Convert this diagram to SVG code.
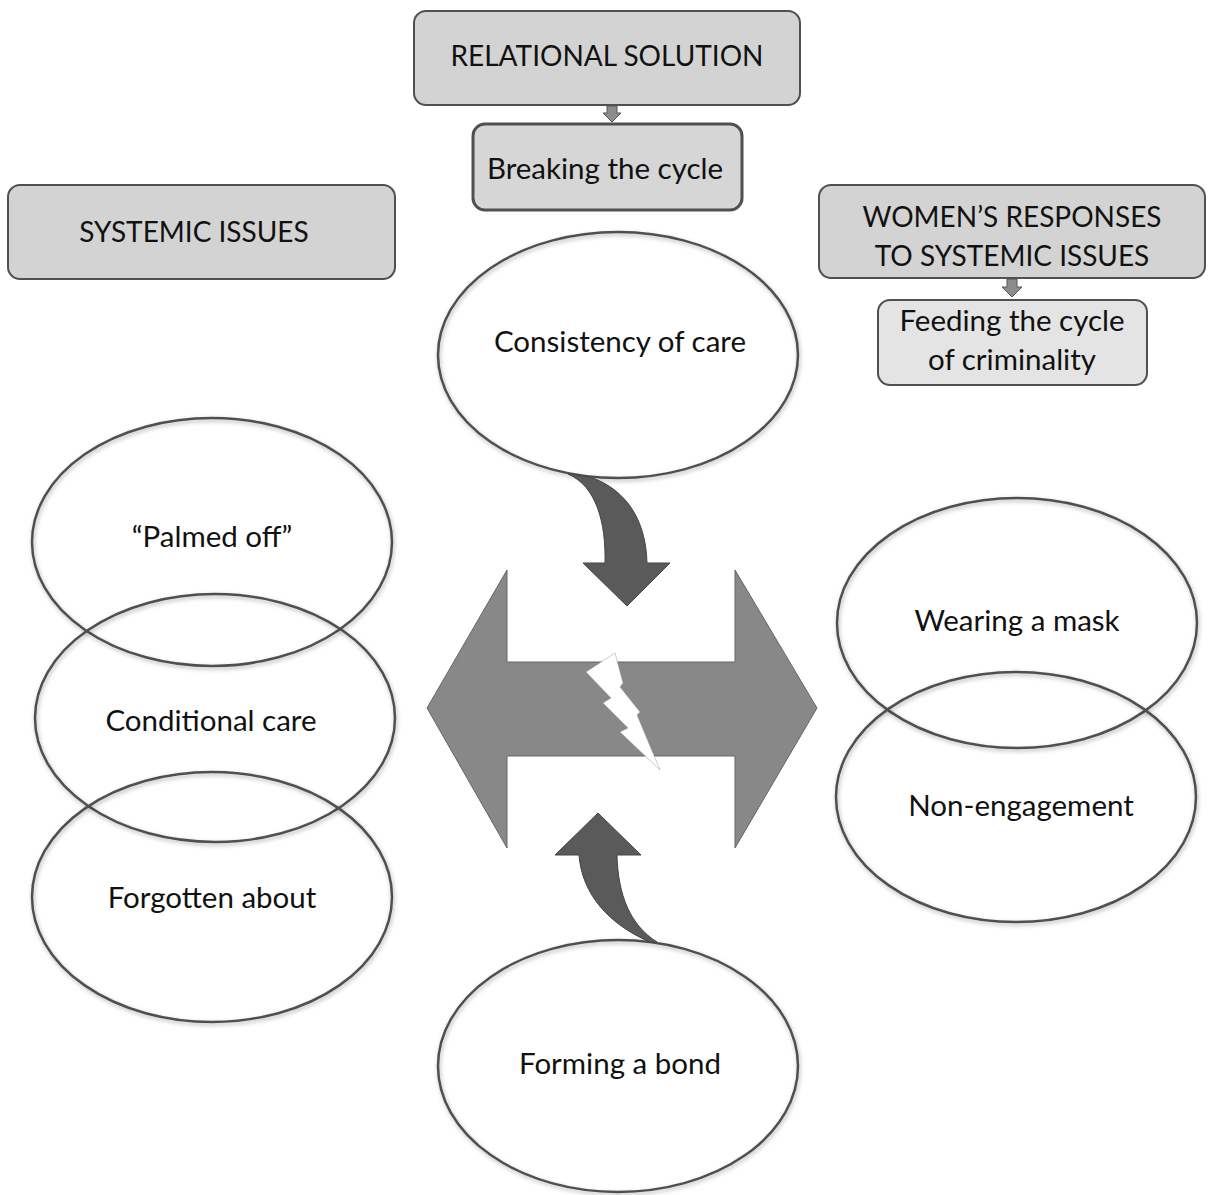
<svg xmlns="http://www.w3.org/2000/svg" width="1209" height="1195" viewBox="0 0 1209 1195">
<defs>
<filter id="sh" x="-10%" y="-10%" width="120%" height="125%">
<feDropShadow dx="1" dy="2" stdDeviation="2" flood-color="#000" flood-opacity="0.3"/>
</filter>
<style>
.box{fill:#d3d3d3;stroke:#505050;stroke-width:2}
.ell{fill:none;stroke:#505050;stroke-width:2.5;filter:url(#sh)}
.t{font-family:Lato,"Open Sans",sans-serif;font-size:29.5px;fill:#111;text-anchor:middle}
.c{font-size:28px}
.sm{fill:#8c8c8c;stroke:#555;stroke-width:1}
.dk{fill:#5a5a5a;stroke:#444;stroke-width:1}
</style>
</defs>
<rect width="1209" height="1195" fill="#fff"/>
<g id="relational-solution"><rect class="box" x="414" y="11" width="386" height="94" rx="12"/><text class="t c" x="607" y="66">RELATIONAL SOLUTION</text></g>
<g id="breaking-the-cycle"><rect class="box" x="473" y="124" width="269" height="86" rx="12" style="stroke-width:3;fill:#d6d6d6"/><text class="t" x="605" y="179">Breaking the cycle</text></g>
<g id="systemic-issues"><rect class="box" x="8" y="185" width="387" height="94" rx="12"/><text class="t c" x="194" y="242">SYSTEMIC ISSUES</text></g>
<g id="womens-responses"><rect class="box" x="819" y="185" width="386" height="93" rx="12"/><text class="t c" x="1012" y="227">WOMEN’S RESPONSES</text><text class="t c" x="1012" y="266">TO SYSTEMIC ISSUES</text></g>
<g id="feeding-the-cycle"><rect class="box" x="878" y="300" width="269" height="85" rx="12" style="fill:#e4e4e4"/><text class="t" x="1012" y="331">Feeding the cycle</text><text class="t" x="1012" y="370">of criminality</text></g>
<g id="consistency-of-care"><ellipse class="ell" cx="618" cy="355" rx="180" ry="123"/><text class="t" x="620" y="352">Consistency of care</text></g>
<g id="palmed-off"><ellipse class="ell" cx="212" cy="542" rx="180" ry="124"/><text class="t" x="212" y="547">“Palmed off”</text></g>
<g id="conditional-care"><ellipse class="ell" cx="215" cy="718" rx="180" ry="124"/><text class="t" x="211" y="731">Conditional care</text></g>
<g id="forgotten-about"><ellipse class="ell" cx="212" cy="897" rx="180" ry="125"/><text class="t" x="212" y="908">Forgotten about</text></g>
<g id="wearing-a-mask"><ellipse class="ell" cx="1017" cy="623" rx="180" ry="125"/><text class="t" x="1017" y="631">Wearing a mask</text></g>
<g id="non-engagement"><ellipse class="ell" cx="1016" cy="797" rx="180" ry="125"/><text class="t" x="1021" y="816">Non-engagement</text></g>
<g id="forming-a-bond"><ellipse class="ell" cx="618" cy="1066" rx="180" ry="126"/><text class="t" x="620" y="1074">Forming a bond</text></g>
<g id="connectors">
<path class="sm" d="M607 106 L617 106 L617 113 L621 113 L612 122 L603 113 L607 113 Z"/>
<path class="sm" d="M1007 279 L1017 279 L1017 287 L1022 287 L1012 297 L1002 287 L1007 287 Z"/>
<path class="sm" style="fill:#888;stroke:#666" d="M427 708 L507 570 L507 662 L735 662 L735 570 L817 708 L735 848 L735 756 L507 756 L507 848 Z"/>
<path fill="#fff" stroke="#999" stroke-width="0.5" d="M615 653 L586 672 L611 698 L603 703 L628 728 L620 732 L660 770 L637 715 L640 712 L620 687 L623 683 Z"/>
<path class="dk" d="M568 474 C596 486 606 522 605 563 L583 563 L627 606 L670 563 L647 563 C646 522 628 490 590 477 Z"/>
<path class="dk" d="M579 855 L555 855 L598 813 L641 855 L617 855 C618 895 630 925 657 942 L650 942 C610 925 582 895 579 855 Z"/>
</g>
</svg>
